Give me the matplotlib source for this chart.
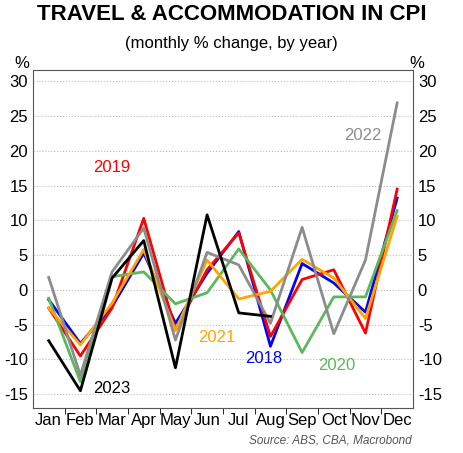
import matplotlib.pyplot as plt

plt.rcParams["font.family"] = ["Liberation Sans", "DejaVu Sans"]

months = ["Jan", "Feb", "Mar", "Apr", "May", "Jun", "Jul", "Aug", "Sep", "Oct", "Nov", "Dec"]
y2018 = [-1.4, -7.7, -2.4, 5.3, -4.8, 2.4, 8.4, -8.1, 3.8, 1.0, -3.2, 13.2]
y2019 = [-2.6, -9.5, -2.6, 10.3, -5.8, 2.9, 8.2, -6.7, 1.5, 2.9, -6.2, 14.5]
y2020 = [-1.2, -13.2, 1.9, 2.6, -2.0, -0.4, 5.9, 0.0, -9.0, -1.0, -1.0, 11.4]
y2021 = [-2.6, -7.9, -1.9, 5.8, -5.8, 4.3, -1.3, -0.2, 4.4, 1.7, -4.1, 10.6]
y2022 = [1.8, -12.3, 2.6, 8.9, -7.2, 5.4, 3.6, -4.8, 9.0, -6.3, 4.3, 26.9]
y2023 = [-7.3, -14.5, 1.7, 7.1, -11.2, 10.8, -3.3, -3.8]

fig = plt.figure(figsize=(4.63, 4.53), dpi=100)
ax = fig.add_axes([0.071, 0.099, 0.821, 0.746])

series = [(y2018, "#0000ff"), (y2019, "#ff0000"), (y2020, "#5cb85c"),
          (y2021, "#ffa500"), (y2022, "#8c8c8c"), (y2023, "#000000")]
for vals, col in series:
    ax.plot(range(len(vals)), vals, color=col, lw=2)

ax.set_xlim(-0.5, 11.5)
ax.set_ylim(-17, 31.6)
ticks = list(range(-15, 31, 5))
ax.set_yticks(ticks)
ax.set_yticklabels([str(t) for t in ticks], fontsize=12)
ax.yaxis.grid(True, color="#bbbbbb", ls=":", lw=0.8)
ax.tick_params(axis="y", length=0, right=True, labelright=True)
ax.set_xticks(range(12))
ax.set_xticklabels(months, fontsize=12)
ax.set_xticks([i + 0.5 for i in range(11)], minor=True)
ax.tick_params(axis="x", which="major", length=0)
ax.tick_params(axis="x", which="minor", length=4)
for s in ax.spines.values():
    s.set_color("#555555")

ax.text(2.0, 17.0, "2019", color="#ff0000", fontsize=12, ha="center")
ax.text(6.8, -10.5, "2018", color="#0000ff", fontsize=12, ha="center")
ax.text(5.3, -7.5, "2021", color="#ffa500", fontsize=12, ha="center")
ax.text(9.1, -11.5, "2020", color="#5cb85c", fontsize=12, ha="center")
ax.text(9.9, 21.5, "2022", color="#8c8c8c", fontsize=12, ha="center")
ax.text(2.0, -14.8, "2023", color="#000000", fontsize=12, ha="center")

fig.text(0.03, 0.85, "%", fontsize=12)
fig.text(0.885, 0.85, "%", fontsize=12)
fig.text(0.5, 0.955, "TRAVEL & ACCOMMODATION IN CPI", ha="center", fontsize=16,
         fontweight="bold")
fig.text(0.5, 0.895, "(monthly % change, by year)", ha="center", fontsize=12)
fig.text(0.89, 0.02, "Source: ABS, CBA, Macrobond", ha="right", fontsize=8.5,
         style="italic", color="#555555")

fig.savefig("out.png", dpi=100)
